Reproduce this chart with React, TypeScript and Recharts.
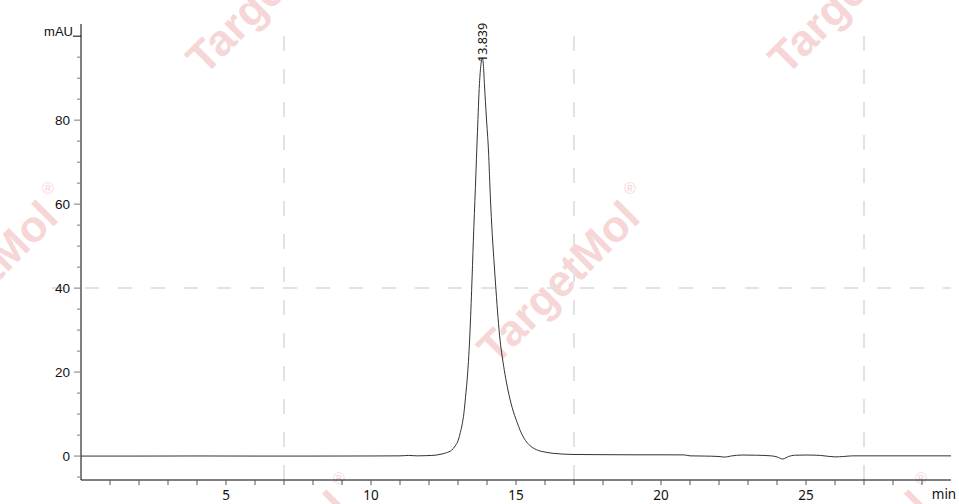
import React from "react";
import {
  LineChart,
  Line,
  XAxis,
  YAxis,
  ReferenceLine,
  ReferenceDot,
} from "recharts";

// retention time (min) and absorbance (mAU)
const times = [
  0, 2, 4, 6, 8, 10, 11.0, 11.3, 11.6, 11.9, 12.1, 12.27, 12.45, 12.6, 12.78,
  12.9, 13.01, 13.08, 13.15, 13.2, 13.24, 13.28, 13.32, 13.4, 13.47, 13.53,
  13.6, 13.67, 13.74, 13.79, 13.839, 13.875, 13.91, 13.98, 14.05, 14.12, 14.18,
  14.25, 14.31, 14.38, 14.45, 14.53, 14.62, 14.73, 14.87, 15.04, 15.15, 15.28,
  15.45, 15.71, 16.0, 16.28, 16.6, 17.0, 18, 19, 20, 20.8, 21.0, 21.5, 22.0,
  22.2, 22.4, 22.8, 23.3, 23.8, 24.0, 24.2, 24.4, 24.6, 25.0, 25.5, 26.0, 26.3,
  26.6, 27, 30,
];
const absorbance = [
  0, 0, 0.02, 0, 0, 0.02, 0.05, 0.15, 0.05, 0.1, 0.15, 0.25, 0.5, 0.8, 1.4,
  2.4, 3.8, 5.6, 7.8, 10.0, 12.6, 15.5, 18.6, 27.6, 39.5, 51.4, 64, 77, 88.7,
  93.2, 94.8, 93.2, 88.7, 80.5, 72.9, 61, 53, 45.5, 39.5, 33, 27.6, 23.4, 19.5,
  15.5, 11.5, 8.0, 6.0, 4.2, 2.7, 1.5, 0.95, 0.65, 0.47, 0.38, 0.33, 0.3, 0.3,
  0.28, 0.05, 0, -0.1, -0.25, 0, 0.25, 0.2, 0.05, -0.2, -0.7, -0.1, 0.2, 0.25,
  0.15, -0.2, -0.1, 0.05, 0.05, 0.05,
];

const peakTime = 13.839;
const peakValue = 94.8;
const peakLabel = "13.839";

const xTicks = Array.from({ length: 29 }, (_, i) => i + 1);
const yTicks = Array.from({ length: 22 }, (_, i) => -5 + i * 5);
const gridTimes = [7, 17, 27];
const gridValue = 40;

const data = times.map((t, i) => ({ t, v: absorbance[i] }));

const YTick = (props: any) => {
  const { y, payload } = props;
  const v = payload.value;
  if (v === 100) {
    return (
      <g>
        <line x1={73} x2={81} y1={y} y2={y} stroke="#000" />
        <text x={73} y={y - 5} textAnchor="end" dominantBaseline="central"
          fontFamily="Liberation Sans" fontSize={13} fill="#111">mAU</text>
      </g>
    );
  }
  const major = v >= 0 && v % 20 === 0;
  return (
    <g>
      <line x1={major ? 74 : 77} x2={81} y1={y} y2={y} stroke="#7a7a7a" />
      {major && (
        <text x={70} y={y} textAnchor="end" dominantBaseline="central"
          fontFamily="Liberation Sans" fontSize={13.5} fill="#111">{v}</text>
      )}
    </g>
  );
};

const XTick = (props: any) => {
  const { x, payload } = props;
  const v = payload.value;
  return (
    <g>
      <line x1={x} x2={x} y1={480} y2={485} stroke="#555" />
      {v % 5 === 0 && (
        <text x={x} y={495} textAnchor="middle" dominantBaseline="central"
          fontFamily="Noto Sans" fontSize={13.5} fill="#111">{v}</text>
      )}
    </g>
  );
};

const PeakLabel = (props: any) => {
  const { viewBox } = props;
  const cx = viewBox.x + (viewBox.width || 0) / 2;
  const cy = viewBox.y + (viewBox.height || 0) / 2 + 4;
  return (
    <text x={cx} y={cy} transform={`rotate(-90, ${cx}, ${cy})`}
      dominantBaseline="central" fontFamily="Noto Sans" fontSize={12.5}
      fill="#111">{peakLabel}</text>
  );
};

const UnitLabel = () => (
  <text x={944} y={494} textAnchor="middle" dominantBaseline="central"
    fontFamily="Noto Sans" fontSize={13.5} fill="#111">min</text>
);

const marks = [
  [267, -8], [849, -8], [-24, 282], [558, 282], [267, 572], [849, 572],
];

const Watermark = () => (
  <svg width={959} height={504} style={{ position: "absolute", left: 0, top: 0 }}>
    {marks.map(([x, y], i) => (
      <g key={i} fill="#f6d6d6">
        <text x={x} y={y} textAnchor="middle" dominantBaseline="central"
          transform={`rotate(-45, ${x}, ${y})`} fontFamily="Liberation Sans"
          fontWeight="bold" fontSize={44}>TargetMol</text>
        <text x={x + 72} y={y - 94} textAnchor="middle" dominantBaseline="central"
          fontFamily="Liberation Sans" fontSize={16}>®</text>
      </g>
    ))}
  </svg>
);

export default function App() {
  return (
    <div style={{ position: "absolute", left: 0, top: 0, width: 959, height: 504, background: "#fff" }}>
      <Watermark />
      <div style={{ position: "absolute", left: 0, top: 0 }}>
        <LineChart width={959} height={504} data={data}
          margin={{ top: 24, right: 8, bottom: 0, left: 0 }}>
          <XAxis dataKey="t" type="number" domain={[0, 30]} ticks={xTicks}
            allowDataOverflow height={24} tickSize={0} tickMargin={0}
            tick={<XTick />} stroke="#000" interval={0}
            label={{ content: <UnitLabel /> }} />
          <YAxis type="number" domain={[-5.7, 102.9]} ticks={yTicks}
            allowDataOverflow width={81} tickSize={0} tickMargin={0}
            tick={<YTick />} stroke="#000" interval={0} />
          {gridTimes.map((g) => (
            <ReferenceLine key={g} x={g} stroke="#e2e2e2" strokeWidth={2}
              strokeDasharray="15 18" />
          ))}
          <ReferenceLine
            segment={[{ x: -1, y: gridValue }, { x: 30, y: gridValue }]}
            ifOverflow="visible" stroke="#e2e2e2" strokeWidth={2}
            strokeDasharray="14 19" />
          <Line type="monotone" dataKey="v" stroke="#333" strokeWidth={1}
            dot={false} isAnimationActive={false} />
          <ReferenceDot x={peakTime} y={peakValue} r={1} fill="none"
            stroke="none" label={<PeakLabel />} />
        </LineChart>
      </div>
    </div>
  );
}
